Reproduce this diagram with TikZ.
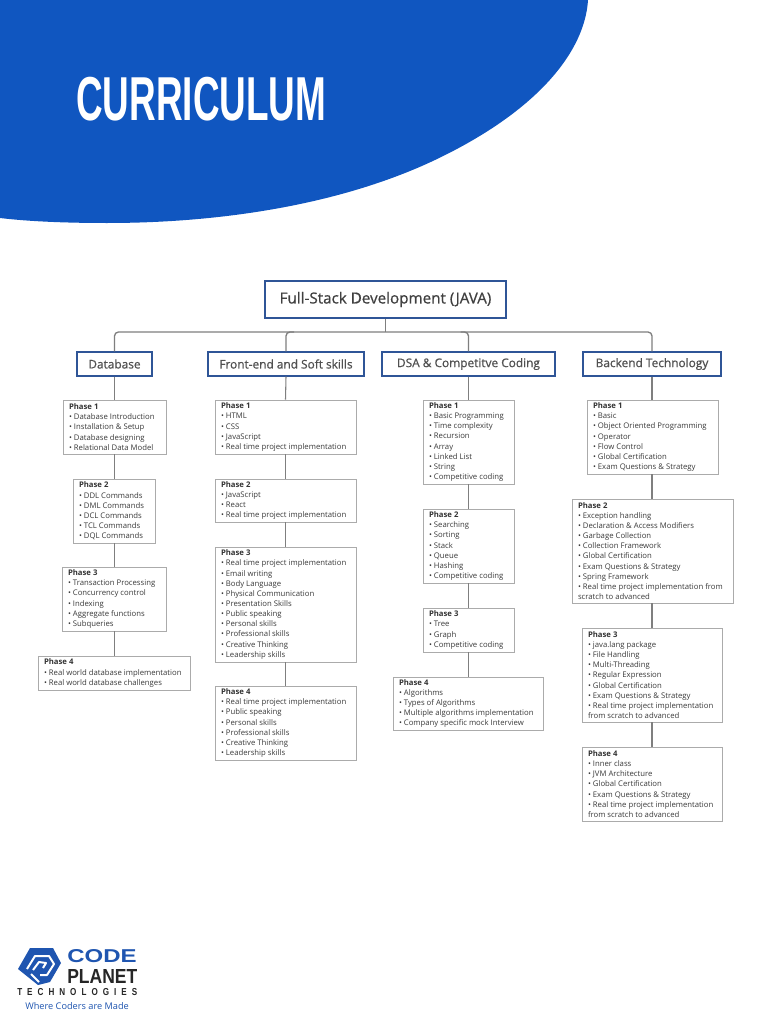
\documentclass[tikz,border=0pt]{standalone}
\usepackage{fontspec}
\setmainfont{Open Sans}
\newfontfamily\heavyfont{Liberation Sans}
\newfontfamily\medfont[FakeBold=0.7]{Open Sans}
\definecolor{headblue}{HTML}{1056C0}
\definecolor{boxblue}{HTML}{2F5597}
\definecolor{boxgray}{HTML}{ABABAB}
\definecolor{linegray}{HTML}{7F7F7F}
\definecolor{txtgray}{HTML}{3A3A3A}
\definecolor{headtxt}{HTML}{505050}
\definecolor{logoblue}{HTML}{1F55B0}
\tikzset{
  x=0.75pt,y=-0.75pt,
  ph/.style={draw=boxgray,line width=0.7pt,fill=white,inner ysep=0pt,inner xsep=4.5pt,
    font=\fontsize{5.8pt}{7.6pt}\selectfont,text=txtgray,anchor=center},
  cat/.style={draw=boxblue,line width=1.1pt,fill=white,align=center,inner sep=0pt,text=headtxt,
    font=\fontsize{8.9pt}{11pt}\selectfont\medfont},
  conn/.style={draw=linegray,line width=0.8pt},
  bus/.style={draw=linegray,line width=1pt,rounded corners=3pt},
}
\newcommand{\pbox}[6]{% name x1 y1 x2 y2 text
  \node[ph,minimum width={(#4-#2)*0.75pt},minimum height={(#5-#3)*0.75pt}] (#1) at ({(#2+#4)/2},{(#3+#5)/2}) {\raisebox{-0.6pt}{\parbox{\dimexpr(#4pt-#2pt)*3/4-9pt\relax}{\raggedright #6}}};}
\newcommand{\cbox}[6]{%
  \node[cat,minimum width={(#4-#2)*0.75pt},minimum height={(#5-#3)*0.75pt}] (#1) at ({(#2+#4)/2},{(#3+#5)/2}) {#6};}
\newcommand{\phs}[1]{\textbf{\textcolor{black!80}{Phase #1}}}
\begin{document}
\begin{tikzpicture}
\useasboundingbox (0,0) rectangle (768,1024);
\fill[white] (0,0) rectangle (768,1024);
\fill[headblue] (0,0) -- (588,0) .. controls (585,50) and (540,110) .. (435,160) .. controls (340,205) and (220,223) .. (107,223) .. controls (60,223) and (25,221) .. (0,218) -- cycle;
\node[text=white,inner sep=0pt,anchor=west] (title) at (76,99.5) {\resizebox{187.5pt}{32.5pt}{\heavyfont\bfseries CURRICULUM}};

% top
\node[draw=boxblue,line width=1.6pt,fill=white,inner sep=0pt,text=black!75,minimum width=180.75pt,minimum height=27.75pt,font=\fontsize{11.4pt}{13pt}\selectfont\medfont] (root) at (385.5,299.5) {Full-Stack Development (JAVA)};
\cbox{db}{77}{352}{152}{376}{Database}
\cbox{fe}{208}{352}{364}{376}{Front-end and Soft skills}
\cbox{dsa}{382}{352}{555}{376}{DSA \& Competitve Coding}
\cbox{be}{583}{352}{721}{376}{Backend Technology}
\coordinate (hub) at (root.south |- 0,332);
\draw[bus] (db.north) -- (db.north |- hub) -- (be.north |- hub) -- (be.north);
\draw[bus,rounded corners=0pt] (root.south) -- (hub);
\draw[bus] (fe.north) -- (fe.north |- hub) -- ++(8,0);
\draw[bus] (dsa.north) -- (dsa.north |- hub) -- ++(-8,0);

% Database
\pbox{dbA}{63}{400}{166}{454}{\phs1\\• Database Introduction\\• Installation \& Setup\\• Database designing\\• Relational Data Model}
\pbox{dbB}{73}{479}{155}{543}{\phs2\\• DDL Commands\\• DML Commands\\• DCL Commands\\• TCL Commands\\• DQL Commands}
\pbox{dbC}{62}{567}{166}{631}{\phs3\\• Transaction Processing\\• Concurrency control\\• Indexing\\• Aggregate functions\\• Subqueries}
\pbox{dbD}{38}{656}{190}{690}{\phs4\\• Real world database implementation\\• Real world database challenges}
\draw[conn] (db.south) -- (db.south |- dbA.north);
\draw[conn] (dbA.south -| db.south) -- (dbB.north -| db.south);
\draw[conn] (dbB.south -| db.south) -- (dbC.north -| db.south);
\draw[conn] (dbC.south -| db.south) -- (dbD.north -| db.south);

% Front end
\pbox{feA}{215}{400}{356}{454}{\phs1\\• HTML\\• CSS\\• JavaScript\\• Real time project implementation}
\pbox{feB}{215}{479}{356}{522}{\phs2\\• JavaScript\\• React\\• Real time project implementation}
\pbox{feC}{215}{547}{356}{662}{\phs3\\• Real time project implementation\\• Email writing\\• Body Language\\• Physical Communication\\• Presentation Skills\\• Public speaking\\• Personal skills\\• Professional skills\\• Creative Thinking\\• Leadership skills}
\pbox{feD}{215}{686}{356}{760}{\phs4\\• Real time project implementation\\• Public speaking\\• Personal skills\\• Professional skills\\• Creative Thinking\\• Leadership skills}
\draw[conn] (fe.south) -- (feA.north);
\draw[conn] (feA.south) -- (feB.north);
\draw[conn] (feB.south) -- (feC.north);
\draw[conn] (feC.south) -- (feD.north);

% DSA
\pbox{dsaA}{423}{400}{514}{484}{\phs1\\• Basic Programming\\• Time complexity\\• Recursion\\• Array\\• Linked List\\• String\\• Competitive coding}
\pbox{dsaB}{423}{509}{514}{583}{\phs2\\• Searching\\• Sorting\\• Stack\\• Queue\\• Hashing\\• Competitive coding}
\pbox{dsaC}{423}{608}{514}{652}{\phs3\\• Tree\\• Graph\\• Competitive coding}
\pbox{dsaD}{393}{677}{543}{730}{\phs4\\• Algorithms\\• Types of Algorithms\\• Multiple algorithms implementation\\• Company specific mock Interview}
\draw[conn] (dsa.south) -- (dsa.south |- dsaA.north);
\draw[conn] (dsaA.south -| dsa.south) -- (dsaB.north -| dsa.south);
\draw[conn] (dsaB.south -| dsa.south) -- (dsaC.north -| dsa.south);
\draw[conn] (dsaC.south -| dsa.south) -- (dsaD.north -| dsa.south);

% Backend
\pbox{beA}{587}{400}{718}{474}{\phs1\\• Basic\\• Object Oriented Programming\\• Operator\\• Flow Control\\• Global Certification\\• Exam Questions \& Strategy}
\pbox{beB}{572}{499}{733}{603}{\phs2\\• Exception handling\\• Declaration \& Access Modifiers\\• Garbage Collection\\• Collection Framework\\• Global Certification\\• Exam Questions \& Strategy\\• Spring Framework\\• Real time project implementation from\\scratch to advanced}
\pbox{beC}{582}{628}{722}{722}{\phs3\\• java.lang package\\• File Handling\\• Multi-Threading\\• Regular Expression\\• Global Certification\\• Exam Questions \& Strategy\\• Real time project implementation\\from scratch to advanced}
\pbox{beD}{582}{747}{722}{821}{\phs4\\• Inner class\\• JVM Architecture\\• Global Certification\\• Exam Questions \& Strategy\\• Real time project implementation\\from scratch to advanced}
\draw[conn] (be.south) -- (be.south |- beA.north);
\draw[conn] (beA.south -| be.south) -- (beB.north -| be.south);
\draw[conn] (beB.south -| be.south) -- (beC.north -| be.south);
\draw[conn] (beC.south -| be.south) -- (beD.north -| be.south);

% logo
\fill[logoblue] (18,969) -- (30,948) -- (53,948) -- (61,963) -- (50,982) -- (38,985) -- cycle;
\draw[white,line width=1.5pt,line join=round] (27,969) -- (35,956) -- (49,956) -- (54,964) -- (47,975) -- (40,975);
\draw[white,line width=1.5pt,line join=round] (33,970) -- (39,962) -- (46,963) -- (43,968);
\draw[white,line width=1.5pt] (31,974) -- (39,982);
\node[text=logoblue,inner sep=0pt,anchor=west] (code) at (67,956.5) {\resizebox{52pt}{9.75pt}{\heavyfont\bfseries CODE}};
\node[text=black!85,inner sep=0pt,anchor=west] (planet) at (67,976) {\resizebox{52.5pt}{10.5pt}{\heavyfont\bfseries PLANET}};
\node[text=black!85,inner sep=0pt,anchor=west] (tech) at (17,992.5) {\resizebox{90pt}{5.3pt}{\heavyfont\bfseries T\hspace{.62em}E\hspace{.62em}C\hspace{.62em}H\hspace{.62em}N\hspace{.62em}O\hspace{.62em}L\hspace{.62em}O\hspace{.62em}G\hspace{.62em}I\hspace{.62em}E\hspace{.62em}S}};
\node[text=logoblue,inner sep=0pt,anchor=west,font=\fontsize{6.9pt}{8pt}\selectfont] (tag) at (25,1006) {Where Coders are Made};
\end{tikzpicture}
\end{document}
